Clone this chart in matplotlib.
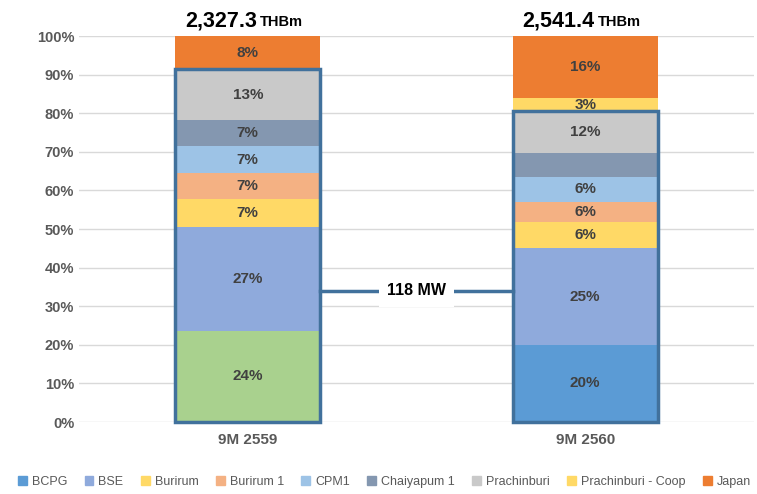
import matplotlib.pyplot as plt
from matplotlib.patches import Rectangle, Patch

plt.rcParams['font.family'] = ['Liberation Sans', 'DejaVu Sans']

periods = ['9M 2559', '9M 2560']
revenue = ['2,327.3', '2,541.4']
plants = ['BCPG', 'BSE', 'Burirum', 'Burirum 1', 'CPM1', 'Chaiyapum 1',
          'Prachinburi', 'Prachinburi - Coop', 'Japan']
colors = ['#5B9BD5', '#8FAADC', '#FFD966', '#F4B183', '#9DC3E6', '#8497B0',
          '#C9C9C9', '#FFD966', '#ED7D31']
first_bcpg_color = '#A9D18E'

# share of revenue (%), one list per period, in plant order
share_2559 = [23.6, 27.0, 7.1, 6.7, 7.0, 6.8, 13.2, 0.0, 8.6]
share_2560 = [20.0, 25.0, 6.7, 5.4, 6.5, 6.0, 10.9, 3.4, 16.1]
labels_2559 = ['24%', '27%', '7%', '7%', '7%', '7%', '13%', '', '8%']
labels_2560 = ['20%', '25%', '6%', '6%', '6%', '', '12%', '3%', '16%']
box_top_idx = 6  # Thai plants (118 MW) run up to Prachinburi
capacity = '118 MW'

fig = plt.figure(figsize=(7.57, 4.94), dpi=100)
ax = fig.add_axes([79 / 757, 72 / 494, 675 / 757, 386 / 494])

width = 0.43
txt = '#404040'
box_col = '#41719C'
shares = [share_2559, share_2560]
labels = [labels_2559, labels_2560]
box_tops = []
for i, (vals, labs) in enumerate(zip(shares, labels)):
    bottom = 0
    for j, v in enumerate(vals):
        c = colors[j]
        if i == 0 and j == 0:
            c = first_bcpg_color
        ax.bar(i, v, width, bottom=bottom, color=c, zorder=2)
        if labs[j]:
            ax.text(i, bottom + v / 2, labs[j], ha='center', va='center',
                    fontsize=11, fontweight='bold', color=txt, zorder=4)
        bottom += v
        if j == box_top_idx:
            box_tops.append(bottom)
    ax.add_patch(Rectangle((i - width / 2, 0), width, box_tops[i], fill=False,
                           ec=box_col, lw=2.5, zorder=3, clip_on=False))
    # revenue header
    ax.text(i + 0.028, 1.04, revenue[i], transform=ax.get_xaxis_transform(),
            ha='right', va='center', fontsize=15.5, fontweight='bold', color='black')
    ax.text(i + 0.037, 1.035, 'THBm', transform=ax.get_xaxis_transform(),
            ha='left', va='center', fontsize=10.5, fontweight='bold', color='black')

# capacity connector
y_mw = 34
ax.plot([width / 2, 1 - width / 2], [y_mw, y_mw], color=box_col, lw=2.5, zorder=3)
ax.text(0.5, y_mw, capacity, ha='center', va='center', fontsize=11.5,
        fontweight='bold', color='black', zorder=4,
        bbox=dict(fc='white', ec='none', pad=6))

ax.set_xlim(-0.5, 1.5)
ax.set_ylim(0, 100)
ax.set_yticks(range(0, 101, 10))
ax.set_yticklabels([f'{t}%' for t in range(0, 101, 10)])
ax.set_xticks([0, 1])
ax.set_xticklabels(periods)
ax.tick_params(length=0, labelsize=10.5, labelcolor='#595959')
ax.tick_params(axis='x', pad=8, labelsize=11)
for lab in ax.get_xticklabels() + ax.get_yticklabels():
    lab.set_fontweight('bold')
ax.yaxis.grid(True, color='#D9D9D9', lw=1, zorder=0)
for s in ax.spines.values():
    s.set_visible(False)

handles = [Patch(color=c) for c in colors]
fig.legend(handles, plants, loc='center', bbox_to_anchor=(0.508, 0.025), ncol=9,
           frameon=False, fontsize=9, handlelength=0.7, handleheight=0.7,
           handletextpad=0.4, columnspacing=1.4, labelcolor='#595959')

fig.savefig('out.png', dpi=100)
